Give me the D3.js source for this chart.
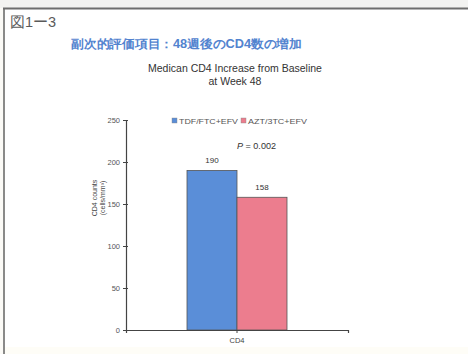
<!DOCTYPE html>
<html>
<head>
<meta charset="utf-8">
<script src="https://cdn.jsdelivr.net/npm/d3@7/dist/d3.min.js"></script>
<style>
  html, body { margin: 0; padding: 0; background: #fbfaf6; }
  svg { display: block; }
  text { font-family: "Liberation Sans", Arial, sans-serif; }
</style>
</head>
<body>
<svg id="chart" width="468" height="354"></svg>
<script>
// Chart data
const categories = ["CD4"];
const seriesNames = ["TDF/FTC+EFV", "AZT/3TC+EFV"];
const seriesValues = [190, 158];
const seriesColors = ["#5a8ed8", "#ec7d8e"];
const yTicks = [0, 50, 100, 150, 200, 250];
const figureLabel = "図1ー3";
const headline = "副次的評価項目：48週後のCD4数の増加";
const titleLines = ["Medican CD4 Increase from Baseline", "at Week 48"];
const yLabelLines = ["CD4 counts", "(cells/mm³)"];
const pValueText = "= 0.002";

const svg = d3.select("#chart");

// Page frame
svg.append("rect").attr("x", 0).attr("y", 0).attr("width", 468).attr("height", 8)
  .attr("fill", "#f3f3f1");
svg.append("rect").attr("x", 5).attr("y", 9).attr("width", 463).attr("height", 345)
  .attr("fill", "#ffffff");
svg.append("line").attr("x1", 3).attr("x2", 468).attr("y1", 8.5).attr("y2", 8.5)
  .attr("stroke", "#6e6e6e").attr("stroke-width", 2);
svg.append("line").attr("x1", 4).attr("x2", 4).attr("y1", 8).attr("y2", 354)
  .attr("stroke", "#6e6e6e").attr("stroke-width", 1.6);
svg.append("rect").attr("x", 5).attr("y", 347).attr("width", 463).attr("height", 7)
  .attr("fill", "#fefdf7");

// Headings
svg.append("text").attr("x", 10).attr("y", 27)
  .attr("font-family", "'Noto Sans CJK JP', sans-serif")
  .attr("font-size", 14.5).attr("fill", "#5a5a5a")
  .text(figureLabel);

svg.append("text").attr("x", 71).attr("y", 48)
  .attr("font-family", "'Noto Sans CJK JP', sans-serif")
  .attr("font-weight", "bold")
  .attr("font-size", 12).attr("fill", "#5283cf")
  .attr("textLength", 231).attr("lengthAdjust", "spacingAndGlyphs")
  .text(headline);

svg.selectAll("text.title").data(titleLines).join("text")
  .attr("class", "title")
  .attr("x", 235).attr("y", (d, i) => 72 + i * 13)
  .attr("text-anchor", "middle")
  .attr("font-size", 10.5).attr("fill", "#333")
  .text(d => d);

// Scales
const y = d3.scaleLinear().domain([0, 250]).range([330, 120]);
const x0 = d3.scaleBand().domain(categories).range([126, 348])
  .paddingInner(0).paddingOuter(0.61);
const x1 = d3.scaleBand().domain(seriesNames).range([0, x0.bandwidth()]);
const color = d3.scaleOrdinal().domain(seriesNames).range(seriesColors);

// Bars
const groups = svg.selectAll("g.group").data(categories).join("g")
  .attr("class", "group")
  .attr("transform", d => `translate(${x0(d)},0)`);

groups.selectAll("rect").data(seriesNames.map((s, i) => ({ s, v: seriesValues[i] })))
  .join("rect")
  .attr("x", d => x1(d.s))
  .attr("y", d => y(d.v))
  .attr("width", x1.bandwidth())
  .attr("height", d => y(0) - y(d.v))
  .attr("fill", d => color(d.s))
  .attr("stroke", "#555")
  .attr("stroke-width", 0.8);

groups.selectAll("text.val").data(seriesNames.map((s, i) => ({ s, v: seriesValues[i] })))
  .join("text")
  .attr("class", "val")
  .attr("x", d => x1(d.s) + x1.bandwidth() / 2)
  .attr("y", d => y(d.v) - 7)
  .attr("text-anchor", "middle")
  .attr("font-size", 8).attr("fill", "#333")
  .text(d => d.v);

// P-value annotation
const pText = svg.append("text").attr("x", 237).attr("y", 149)
  .attr("font-size", 8.5).attr("fill", "#333")
  .attr("textLength", 39).attr("lengthAdjust", "spacingAndGlyphs");
pText.append("tspan").attr("font-style", "italic").text("P");
pText.append("tspan").text(" " + pValueText);

// Axes
const yAxis = svg.append("g").attr("transform", "translate(126,0)")
  .call(d3.axisLeft(y).tickValues(yTicks).tickSizeInner(3).tickSizeOuter(0).tickPadding(3));
yAxis.select(".domain").attr("stroke", "#444").attr("stroke-width", 1.2);
yAxis.selectAll(".tick line").attr("stroke", "#444").attr("x2", 2).attr("x1", -3);
yAxis.selectAll(".tick text").attr("font-size", 7.5).attr("fill", "#555")
  .attr("font-family", "'Liberation Sans', Arial, sans-serif");

const xAxis = svg.append("g").attr("transform", "translate(0,330)")
  .call(d3.axisBottom(x0).tickSizeInner(3).tickSizeOuter(3).tickPadding(5));
xAxis.select(".domain").attr("stroke", "#444").attr("stroke-width", 1.2);
xAxis.selectAll(".tick line").attr("stroke", "#444");
xAxis.selectAll(".tick text").attr("font-size", 7.5).attr("fill", "#444")
  .attr("font-family", "'Liberation Sans', Arial, sans-serif");

// Y-axis title
svg.selectAll("text.ylab").data(yLabelLines).join("text")
  .attr("class", "ylab")
  .attr("transform", (d, i) => `translate(${97 + i * 8},198) rotate(-90)`)
  .attr("text-anchor", "middle")
  .attr("font-size", 7).attr("fill", "#444")
  .text(d => d);

// Legend
const legend = svg.append("g").attr("transform", "translate(172,121)");
const legendX = [0, 69];
seriesNames.forEach((s, i) => {
  const g = legend.append("g").attr("transform", `translate(${legendX[i]},0)`);
  g.append("rect").attr("x", 0).attr("y", -3).attr("width", 5).attr("height", 5)
    .attr("fill", color(s)).attr("stroke", "#888").attr("stroke-width", 0.4);
  g.append("text").attr("x", 7).attr("y", 2.5)
    .attr("font-size", 7).attr("fill", "#555")
    .attr("textLength", 59).attr("lengthAdjust", "spacingAndGlyphs")
    .text(s);
});
</script>
</body>
</html>
